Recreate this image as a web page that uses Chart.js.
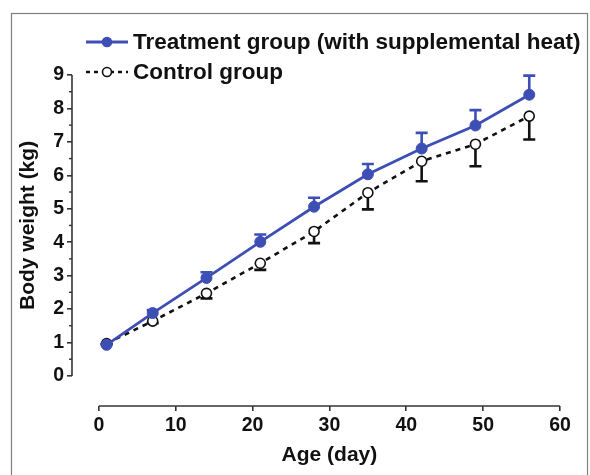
<!DOCTYPE html>
<html>
<head>
<meta charset="utf-8">
<script src="https://cdn.jsdelivr.net/npm/chart.js@4.4.0/dist/chart.umd.min.js"></script>
<style>
  html, body { margin: 0; padding: 0; background: #ffffff; }
  #wrap { position: relative; width: 590px; height: 475px; }
</style>
</head>
<body>
<div id="wrap"><canvas id="c" width="590" height="475"></canvas></div>
<script>
// ---- data ----
const ageDays = [1, 7, 14, 21, 28, 35, 42, 49, 56];
const treatmentWeight = [0.93, 1.88, 2.93, 4.01, 5.06, 6.03, 6.80, 7.49, 8.41];
const treatmentErrUp = [0.04, 0.09, 0.17, 0.22, 0.27, 0.31, 0.47, 0.46, 0.57];
const controlWeight = [0.97, 1.64, 2.47, 3.37, 4.32, 5.48, 6.42, 6.93, 7.77];
const controlErrDown = [0.03, 0.06, 0.15, 0.20, 0.35, 0.50, 0.60, 0.66, 0.70];
const xTickValues = [0, 10, 20, 30, 40, 50, 60];
const yTickValues = [0, 1, 2, 3, 4, 5, 6, 7, 8, 9];
const legendLabels = ['Treatment group (with supplemental heat)', 'Control group'];
const xTitle = 'Age (day)';
const yTitle = 'Body weight (kg)';

const BLUE = '#3d4fb5';
const FONT = '"Liberation Sans", Arial, sans-serif';

const toPts = (xs, ys) => xs.map((x, i) => ({ x: x, y: ys[i] }));

const decor = {
  id: 'decor',
  beforeDraw(chart) {
    const ctx = chart.ctx;
    ctx.save();
    ctx.strokeStyle = '#808080';
    ctx.lineWidth = 1.2;
    ctx.strokeRect(11.5, 13.5, 576, 480);
    ctx.restore();
  },
  beforeDatasetsDraw(chart) {
    const ctx = chart.ctx;
    const xs = chart.scales.x, ys = chart.scales.y;
    ctx.save();
    // axis lines
    ctx.strokeStyle = '#333';
    ctx.lineWidth = 1.6;
    const ax = chart.chartArea.left;
    ctx.beginPath();
    ctx.moveTo(ax, ys.getPixelForValue(0));
    ctx.lineTo(ax, ys.getPixelForValue(9));
    ctx.stroke();
    const ay = chart.chartArea.bottom;
    ctx.beginPath();
    ctx.moveTo(xs.getPixelForValue(0), ay);
    ctx.lineTo(xs.getPixelForValue(60), ay);
    ctx.stroke();
    // minor y ticks
    ctx.lineWidth = 1.4;
    for (let i = 0; i < yTickValues.length - 1; i++) {
      const py = ys.getPixelForValue(yTickValues[i] + 0.5);
      ctx.beginPath();
      ctx.moveTo(ax - 3, py);
      ctx.lineTo(ax, py);
      ctx.stroke();
    }
    // error bars
    const cap = 6;
    ctx.lineWidth = 2.6;
    ctx.strokeStyle = BLUE;
    ageDays.forEach((d, i) => {
      const px = xs.getPixelForValue(d);
      const p0 = ys.getPixelForValue(treatmentWeight[i]);
      const p1 = ys.getPixelForValue(treatmentWeight[i] + treatmentErrUp[i]);
      ctx.beginPath();
      ctx.moveTo(px, p0); ctx.lineTo(px, p1);
      ctx.moveTo(px - cap, p1); ctx.lineTo(px + cap, p1);
      ctx.stroke();
    });
    ctx.strokeStyle = '#111';
    ageDays.forEach((d, i) => {
      const px = xs.getPixelForValue(d);
      const p0 = ys.getPixelForValue(controlWeight[i]);
      const p1 = ys.getPixelForValue(controlWeight[i] - controlErrDown[i]);
      ctx.beginPath();
      ctx.moveTo(px, p0); ctx.lineTo(px, p1);
      ctx.moveTo(px - cap, p1); ctx.lineTo(px + cap, p1);
      ctx.stroke();
    });
    ctx.restore();
  },
  afterDraw(chart) {
    const ctx = chart.ctx;
    const xs = chart.scales.x, ys = chart.scales.y;
    ctx.save();
    const rows = [
      { y: 42, color: BLUE, dash: [], fill: BLUE, text: legendLabels[0] },
      { y: 72, color: '#111', dash: [4, 4], fill: '#fff', text: legendLabels[1] }
    ];
    rows.forEach(r => {
      ctx.strokeStyle = r.color;
      ctx.lineWidth = r.dash.length ? 2.4 : 2.8;
      ctx.setLineDash(r.dash);
      ctx.beginPath();
      ctx.moveTo(86, r.y); ctx.lineTo(128, r.y);
      ctx.stroke();
      ctx.setLineDash([]);
      ctx.beginPath();
      ctx.arc(107, r.y, 4.5, 0, Math.PI * 2);
      ctx.fillStyle = r.fill;
      ctx.fill();
      ctx.lineWidth = 1.6;
      ctx.stroke();
      ctx.fillStyle = '#111';
      ctx.font = 'bold 22.5px ' + FONT;
      ctx.textBaseline = 'middle';
      ctx.textAlign = 'left';
      ctx.fillText(r.text, 133, r.y + 1);
    });
    // axis titles, centred on the drawn axis lines
    ctx.fillStyle = '#111';
    ctx.font = 'bold 21px ' + FONT;
    ctx.textAlign = 'center';
    ctx.textBaseline = 'middle';
    const xc = (xs.getPixelForValue(0) + xs.getPixelForValue(60)) / 2;
    ctx.fillText(xTitle, xc, 455);
    const yc = (ys.getPixelForValue(0) + ys.getPixelForValue(9)) / 2;
    ctx.translate(28, yc);
    ctx.rotate(-Math.PI / 2);
    ctx.fillText(yTitle, 0, 0);
    ctx.restore();
  }
};

new Chart(document.getElementById('c'), {
  type: 'line',
  data: {
    datasets: [
      {
        label: legendLabels[0],
        data: toPts(ageDays, treatmentWeight),
        borderColor: BLUE,
        backgroundColor: BLUE,
        borderWidth: 2.8,
        pointRadius: 5.5,
        pointBorderWidth: 1,
        pointBackgroundColor: BLUE,
        pointBorderColor: BLUE,
        tension: 0
      },
      {
        label: legendLabels[1],
        data: toPts(ageDays, controlWeight),
        borderColor: '#111',
        backgroundColor: '#fff',
        borderWidth: 2.6,
        borderDash: [5, 5],
        pointRadius: 5,
        pointBorderWidth: 1.6,
        pointBackgroundColor: '#fff',
        pointBorderColor: '#111',
        tension: 0
      }
    ]
  },
  options: {
    responsive: false,
    animation: false,
    devicePixelRatio: 1,
    layout: { padding: { top: 75, right: 30, bottom: 0, left: 0 } },
    plugins: { legend: { display: false }, tooltip: { enabled: false } },
    scales: {
      x: {
        type: 'linear',
        min: -3.5,
        max: 60,
        afterBuildTicks(s) { s.ticks = xTickValues.map(v => ({ value: v })); },
        afterFit(s) { s.height = 69; },
        border: { display: false },
        grid: { drawOnChartArea: false, drawTicks: true, tickLength: 5, color: '#333', lineWidth: 1.6 },
        ticks: { color: '#111', font: { family: FONT, size: 19.5, weight: 'bold' }, padding: 3, maxRotation: 0 },
        title: { display: false }
      },
      y: {
        type: 'linear',
        min: -0.9,
        max: 9,
        afterBuildTicks(s) { s.ticks = yTickValues.map(v => ({ value: v })); },
        afterFit(s) { s.width = 72; },
        border: { display: false },
        grid: { drawOnChartArea: false, drawTicks: true, tickLength: 5, color: '#333', lineWidth: 1.6 },
        ticks: { color: '#111', font: { family: FONT, size: 19.5, weight: 'bold' }, padding: 3 },
        title: { display: false }
      }
    }
  },
  plugins: [decor]
});
</script>
</body>
</html>
